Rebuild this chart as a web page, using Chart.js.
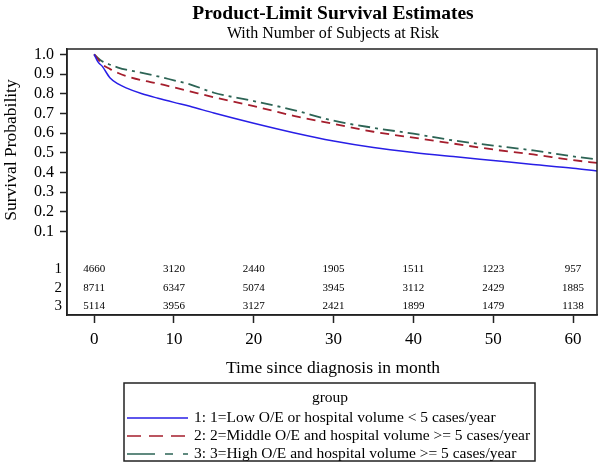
<!DOCTYPE html>
<html>
<head>
<meta charset="utf-8">
<script src="https://cdn.jsdelivr.net/npm/chart.js@4.4.1/dist/chart.umd.min.js"></script>
<style>
  html, body { margin: 0; padding: 0; background: #fff; }
  #wrap { width: 600px; height: 464px; }
</style>
</head>
<body>
<div id="wrap"><canvas id="km"></canvas></div>
<script>
// months since diagnosis and the survival estimate for each group
const months = [0, 0.5, 1, 2, 3, 4, 6, 8, 10, 12, 15, 20, 25, 30, 35, 40, 45, 50, 55, 60, 63];
const lowSurv = [1.0, 0.96, 0.94, 0.88, 0.85, 0.83, 0.80, 0.777, 0.756, 0.736, 0.702, 0.65, 0.602, 0.56, 0.527, 0.502, 0.481, 0.461, 0.441, 0.422, 0.408];
const midSurv = [1.0, 0.975, 0.95, 0.925, 0.905, 0.89, 0.868, 0.852, 0.832, 0.812, 0.782, 0.737, 0.688, 0.647, 0.607, 0.577, 0.547, 0.517, 0.492, 0.463, 0.449];
const highSurv = [1.0, 0.98, 0.965, 0.947, 0.933, 0.922, 0.906, 0.888, 0.868, 0.848, 0.805, 0.763, 0.717, 0.663, 0.627, 0.597, 0.563, 0.537, 0.512, 0.482, 0.467];

const groupNames = [
  '1: 1=Low O/E or hospital volume < 5 cases/year',
  '2: 2=Middle O/E and hospital volume >= 5 cases/year',
  '3: 3=High O/E and hospital volume >= 5 cases/year'
];

// number at risk
const riskMonths = [0, 10, 20, 30, 40, 50, 60];
const riskLow = [4660, 3120, 2440, 1905, 1511, 1223, 957];
const riskMid = [8711, 6347, 5074, 3945, 3112, 2429, 1885];
const riskHigh = [5114, 3956, 3127, 2421, 1899, 1479, 1138];

const yTicks = [0.1, 0.2, 0.3, 0.4, 0.5, 0.6, 0.7, 0.8, 0.9, 1.0];
const xTicks = [0, 10, 20, 30, 40, 50, 60];

const serif = '"Liberation Serif", "DejaVu Serif", serif';

function pts(vals) {
  return months.map((m, i) => ({ x: m, y: vals[i] }));
}

const extras = {
  id: 'extras',
  afterDraw(chart) {
    const ctx = chart.ctx;
    const area = chart.chartArea;
    const xs = chart.scales.x;
    ctx.save();

    // frame
    ctx.strokeStyle = '#222';
    ctx.lineWidth = 1.5;
    ctx.strokeRect(area.left, area.top, area.right - area.left, area.bottom - area.top);

    ctx.fillStyle = '#000';
    ctx.textAlign = 'center';
    ctx.textBaseline = 'middle';
    ctx.font = 'bold 19.5px ' + serif;
    ctx.fillText('Product-Limit Survival Estimates', 333, 14);
    ctx.font = '16px ' + serif;
    ctx.fillText('With Number of Subjects at Risk', 333, 34);

    ctx.font = '17.5px ' + serif;
    ctx.fillText('Time since diagnosis in month', 333, 368);

    ctx.save();
    ctx.translate(11, 150);
    ctx.rotate(-Math.PI / 2);
    ctx.fillText('Survival Probability', 0, 0);
    ctx.restore();

    // at-risk table
    const rows = [riskLow, riskMid, riskHigh];
    const rowY = [269, 288, 306];
    rows.forEach((row, r) => {
      ctx.font = '15px ' + serif;
      ctx.textAlign = 'right';
      ctx.fillText(String(r + 1), 62, rowY[r]);
      ctx.font = '11px ' + serif;
      ctx.textAlign = 'center';
      row.forEach((n, i) => {
        ctx.fillText(String(n), xs.getPixelForValue(riskMonths[i]), rowY[r]);
      });
    });

    // legend box
    ctx.lineWidth = 1.5;
    ctx.strokeStyle = '#222';
    ctx.strokeRect(124, 383, 411, 78);
    ctx.font = '15.5px ' + serif;
    ctx.textAlign = 'center';
    ctx.fillText('group', 330, 398);
    const legendDash = [[], [14, 8], [28, 10, 8, 10]];
    chart.data.datasets.forEach((ds, i) => {
      const y = 418 + i * 18;
      ctx.beginPath();
      ctx.setLineDash(legendDash[i]);
      ctx.strokeStyle = ds.borderColor;
      ctx.lineWidth = 1.5;
      ctx.moveTo(127, y);
      ctx.lineTo(188, y);
      ctx.stroke();
      ctx.setLineDash([]);
      ctx.textAlign = 'left';
      ctx.fillText(groupNames[i], 194, y);
    });
    ctx.restore();
  }
};

new Chart(document.getElementById('km'), {
  type: 'line',
  data: {
    datasets: [
      { label: groupNames[0], data: pts(lowSurv), borderColor: 'rgb(40,30,230)', borderWidth: 1.5 },
      { label: groupNames[1], data: pts(midSurv), borderColor: 'rgb(165,30,45)', borderWidth: 1.8, borderDash: [9, 6] },
      { label: groupNames[2], data: pts(highSurv), borderColor: 'rgb(45,100,85)', borderWidth: 1.8, borderDash: [12, 5, 3, 5] }
    ]
  },
  options: {
    responsive: true,
    maintainAspectRatio: false,
    animation: false,
    devicePixelRatio: 1,
    elements: { point: { radius: 0 }, line: { cubicInterpolationMode: 'monotone' } },
    layout: { padding: { top: 49, right: 3, left: 0, bottom: 0 } },
    plugins: { legend: { display: false }, title: { display: false }, tooltip: { enabled: false } },
    scales: {
      x: {
        type: 'linear',
        min: -3.4,
        max: 63,
        afterBuildTicks: s => { s.ticks = xTicks.map(v => ({ value: v })); },
        afterFit: s => { s.height = 149; },
        grid: { drawOnChartArea: false, drawTicks: true, tickLength: 8, tickColor: '#222', tickWidth: 1.5 },
        border: { display: true, color: '#222', width: 1.5 },
        ticks: { color: '#000', font: { family: serif, size: 17 }, padding: 6, maxRotation: 0 }
      },
      y: {
        min: -0.323,
        max: 1.027,
        afterBuildTicks: s => { s.ticks = yTicks.map(v => ({ value: v })); },
        afterFit: s => { s.width = 67; },
        grid: { drawOnChartArea: false, drawTicks: true, tickLength: 7, tickColor: '#222', tickWidth: 1.5 },
        border: { display: true, color: '#222', width: 1.5 },
        ticks: { color: '#000', font: { family: serif, size: 16 }, padding: 6, callback: v => v.toFixed(1) }
      }
    }
  },
  plugins: [extras]
});
</script>
</body>
</html>
